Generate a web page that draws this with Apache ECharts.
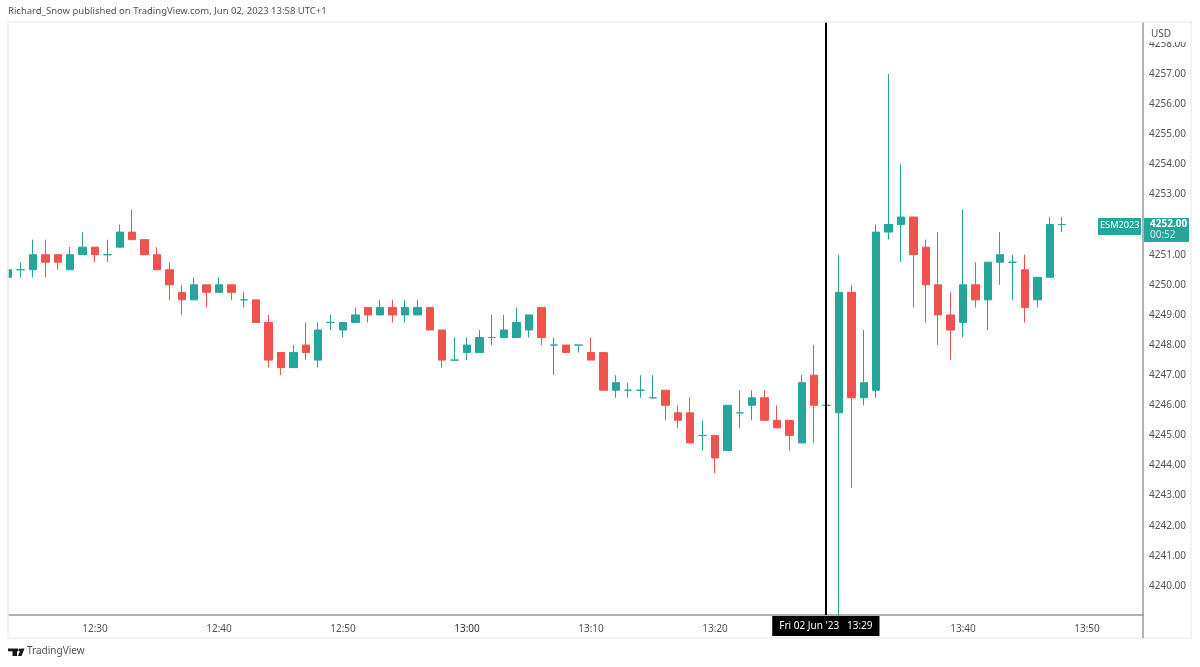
<!DOCTYPE html>
<html><head><meta charset="utf-8">
<style>html,body{margin:0;padding:0;background:#fff}#c{width:1200px;height:667px}</style>
<script src="https://cdn.jsdelivr.net/npm/echarts@6/dist/echarts.min.js"></script>
</head><body><div id="c"></div>
<script>
const FONT = '"Noto Sans", sans-serif';
const times = ['12:23','12:24','12:25','12:26','12:27','12:28','12:29','12:30','12:31','12:32','12:33','12:34','12:35','12:36','12:37','12:38','12:39','12:40','12:41','12:42','12:43','12:44','12:45','12:46','12:47','12:48','12:49','12:50','12:51','12:52','12:53','12:54','12:55','12:56','12:57','12:58','12:59','13:00','13:01','13:02','13:03','13:04','13:05','13:06','13:07','13:08','13:09','13:10','13:11','13:12','13:13','13:14','13:15','13:16','13:17','13:18','13:19','13:20','13:21','13:22','13:23','13:24','13:25','13:26','13:27','13:28','13:29','13:30','13:31','13:32','13:33','13:34','13:35','13:36','13:37','13:38','13:39','13:40','13:41','13:42','13:43','13:44','13:45','13:46','13:47','13:48'];
const opens = [4250.25,4250.5,4250.5,4251,4251,4250.5,4251,4251.25,4251,4251.25,4251.75,4251.5,4251,4250.5,4249.75,4249.5,4250,4249.75,4250,4249.5,4249.5,4248.75,4247.75,4247.25,4248,4247.5,4248.75,4248.5,4248.75,4249.25,4249,4249.25,4249,4249,4249.25,4248.5,4247.5,4247.75,4247.75,4248.25,4248.25,4248.25,4248.5,4249.25,4248,4248,4248,4247.75,4247.75,4246.5,4246.5,4246.5,4246.25,4246.5,4245.75,4245.75,4245,4245,4244.5,4245.75,4246,4246.25,4245.5,4245.5,4244.75,4247,4246,4245.75,4249.75,4246.25,4246.5,4251.75,4252,4252.25,4251.25,4250,4249,4248.75,4250,4249.5,4250.75,4250.75,4250.5,4249.5,4250.25,4252];
const closes = [4250.5,4250.5,4251,4250.75,4250.75,4251,4251.25,4251,4251,4251.75,4251.5,4251,4250.5,4250,4249.5,4250,4249.75,4250,4249.75,4249.5,4248.75,4247.5,4247.25,4247.75,4247.75,4248.5,4248.75,4248.75,4249,4249,4249.25,4249,4249.25,4249.25,4248.5,4247.5,4247.5,4248,4248.25,4248.25,4248.5,4248.75,4249,4248.25,4248,4247.75,4248,4247.5,4246.5,4246.75,4246.5,4246.5,4246.25,4246,4245.5,4244.75,4245,4244.25,4246,4245.75,4246.25,4245.5,4245.25,4245,4246.75,4246,4246,4249.75,4246.25,4246.75,4251.75,4252,4252.25,4251,4250,4249,4248.5,4250,4249.5,4250.75,4251,4250.75,4249.25,4250.25,4252,4252];
const lows = [4250.25,4250.25,4250.25,4250.25,4250.5,4250.5,4251,4250.75,4250.75,4251.25,4251.5,4251,4250.5,4249.5,4249,4249.5,4249.25,4249.75,4249.5,4249.25,4248.75,4247.25,4247,4247.25,4247.5,4247.25,4248.5,4248.25,4248.75,4248.75,4249,4248.75,4248.75,4249,4248.5,4247.25,4247.5,4247.5,4247.75,4248,4248.25,4248.25,4248.25,4248,4247,4247.75,4247.75,4247.5,4246.5,4246.25,4246.25,4246.25,4246.25,4245.5,4245.25,4244.75,4244.5,4243.75,4244.5,4245.25,4245.5,4245.5,4245.25,4244.5,4244.75,4244.75,4244.25,4239,4243.25,4246,4246.25,4251.5,4250.75,4249.25,4248.75,4248,4247.5,4248.25,4249.25,4248.5,4250,4249.5,4248.75,4249.25,4250.25,4251.75];
const highs = [4250.5,4250.75,4251.5,4251.5,4251,4251.25,4251.75,4251.25,4251.5,4252,4252.5,4251.5,4251.25,4250.75,4250,4250.25,4250,4250.25,4250,4249.75,4249.5,4249,4247.75,4248,4248.75,4248.75,4249,4248.75,4249.25,4249.25,4249.5,4249.5,4249.5,4249.5,4249.25,4248.5,4248.25,4248.25,4248.5,4249,4249,4249.25,4249,4249.25,4248.25,4248,4248,4248.25,4247.75,4247,4246.75,4247,4247,4246.5,4246,4246.25,4245.5,4245,4246,4246.5,4246.5,4246.5,4246,4245.5,4247,4248,4247.5,4251,4250,4248.5,4252,4257,4254,4252.25,4251.5,4251.75,4249.75,4252.5,4250.75,4250.75,4251.75,4251,4251,4250.25,4252.25,4252.25];
const priceTicks = [4240,4241,4242,4243,4244,4245,4246,4247,4248,4249,4250,4251,4252,4253,4254,4255,4256,4257,4258];
const timeTicks = [30,40,50,60,70,80,90,100,110];
const cursorMinute = 89;
const cursorLabel = "Fri 02 Jun '23   13:29";

const minuteOf = t => { const [h,m] = t.split(':').map(Number); return (h-12)*60+m; };
const hhmm = v => { const h = 12+Math.floor(v/60), m = v%60; return h+':'+String(m).padStart(2,'0'); };
const ohlc = times.map((t,i)=>[minuteOf(t),opens[i],closes[i],lows[i],highs[i]]);

const UP='#26a69a', DOWN='#ef5350', TXT='#50535e', AX='#9598a1';
const chart = echarts.init(document.getElementById('c'),null,{renderer:'canvas'});
chart.setOption({
  animation:false,
  backgroundColor:'#fff',
  textStyle:{fontFamily:FONT},
  grid:{left:8,right:57,top:22,bottom:52,containLabel:false},
  xAxis:{type:'value',min:22.984,max:114.516,
    axisLine:{show:true,lineStyle:{color:AX,width:1.5}},
    axisTick:{show:false},splitLine:{show:false},
    axisLabel:{customValues:timeTicks,color:TXT,fontSize:10,margin:9,fontFamily:FONT,
      formatter:v=> v===60 ? '{b|'+hhmm(v)+'}' : hhmm(v),
      rich:{b:{color:'#2a2e39',fontSize:10,fontWeight:'normal',fontFamily:FONT}}}},
  yAxis:{type:'value',position:'right',min:4239.037,max:4258.726,scale:true,
    axisLine:{show:true,lineStyle:{color:AX,width:1.5}},
    axisTick:{show:false},splitLine:{show:false},
    axisLabel:{customValues:priceTicks,color:TXT,fontSize:10,margin:6,fontFamily:FONT,padding:[4,0,0,0],
      formatter:v=>v.toFixed(2)}},
  series:[
    {type:'line',name:'cursor',z:1,data:[],silent:true,clip:false,
     markLine:{silent:true,symbol:'none',animation:false,
       lineStyle:{color:'#000',width:2,type:'solid'},
       label:{show:true,position:'start',distance:1,formatter:cursorLabel,
         color:'#fff',backgroundColor:'#000',fontSize:10,fontFamily:FONT,padding:[5,7,5,7]},
       data:[{xAxis:cursorMinute-0.06}]}},
    {type:'candlestick',name:'ESM2023',z:2,barWidth:8,clip:true,
     encode:{x:0,y:[1,2,3,4]},
     itemStyle:{color:UP,color0:DOWN,borderColor:UP,borderColor0:DOWN,borderColorDoji:UP,borderWidth:1},
     data:ohlc}
  ],
  graphic:[
    {type:'rect',z:40,silent:true,shape:{x:0,y:20,width:7.5,height:620},style:{fill:'#fff'}},
    {type:'rect',z:41,silent:true,shape:{x:8,y:22,width:1183,height:616},style:{fill:'none',stroke:'#eeeeee',lineWidth:1.5}},
    {type:'line',z:50,silent:true,shape:{x1:1143,y1:615,x2:1143,y2:638},style:{stroke:AX,lineWidth:1.5}},
    {type:'rect',z:60,silent:true,shape:{x:1145,y:24,width:44,height:18},style:{fill:'#fff'}},
    {type:'text',z:61,silent:true,x:1151,y:29,style:{text:'USD',fill:TXT,font:'10px '+FONT}},
    {type:'text',z:61,silent:true,x:8,y:6,style:{text:'Richard_Snow published on TradingView.com, Jun 02, 2023 13:58 UTC+1',fill:TXT,font:'9.5px '+FONT}},
    {type:'rect',z:60,silent:true,shape:{x:1098,y:218,width:43,height:17},style:{fill:UP}},
    {type:'text',z:61,silent:true,x:1100,y:220.5,style:{text:'ESM2023',fill:'#fff',font:'9.2px '+FONT}},
    {type:'rect',z:60,silent:true,shape:{x:1144,y:218,width:45,height:24},style:{fill:UP}},
    {type:'text',z:61,silent:true,x:1150,y:219,style:{text:'4252.00',fill:'#fff',font:'bold 10px '+FONT}},
    {type:'text',z:61,silent:true,x:1150,y:230,style:{text:'00:52',fill:'#cdeee9',font:'10px '+FONT}},
    {type:'rect',z:61,silent:true,shape:{x:8,y:648.5,width:10,height:2.8},style:{fill:'#131722'}},
    {type:'rect',z:61,silent:true,shape:{x:12.5,y:651,width:4.5,height:5},style:{fill:'#131722'}},
    {type:'circle',z:61,silent:true,shape:{cx:19.8,cy:650,r:1.4},style:{fill:'#131722'}},
    {type:'polygon',z:61,silent:true,shape:{points:[[21.5,648.5],[24.5,648.5],[21.5,656],[17.8,656]]},style:{fill:'#131722'}},
    {type:'text',z:61,silent:true,x:27,y:646.5,style:{text:'TradingView',fill:TXT,font:'10px '+FONT}}
  ]
});
</script></body></html>
